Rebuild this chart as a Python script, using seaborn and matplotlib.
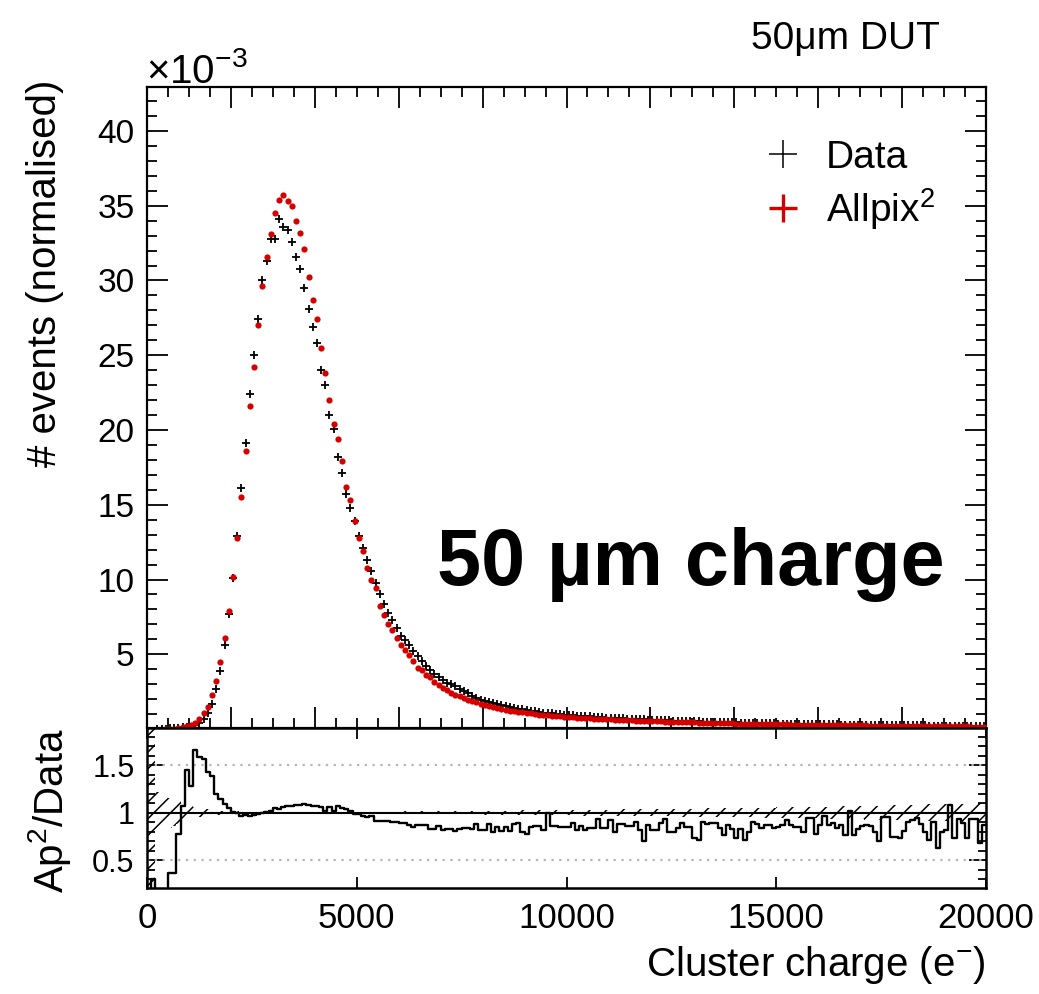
import numpy as np
import pandas as pd
import seaborn as sns
import matplotlib
matplotlib.use("Agg")
import matplotlib.pyplot as plt
from matplotlib.ticker import MultipleLocator, FuncFormatter, NullLocator
from matplotlib.lines import Line2D

# ---------------- data (values in units of 1e-3 for the upper panel) ----------------
bin_edges_range = (0, 20000)
n_bins = 200

data_vals = [
    0, 0, 0.01, 0.02, 0.03, 0.05, 0.07, 0.10, 0.14, 0.15,
    0.17, 0.27, 0.42, 0.69, 1.09, 1.65, 2.67, 3.9, 5.6, 7.7,
    10.1, 12.9, 16.1, 19.1, 22.4, 25.0, 27.4, 30.0, 31.3, 32.8,
    32.8, 34.1, 33.6, 33.4, 32.6, 31.6, 30.8, 29.5, 28.1, 26.9,
    25.8, 24.0, 23.0, 21.0, 20.1, 18.2, 17.1, 15.7, 14.8, 13.9,
    12.9, 12.1, 11.3, 10.6, 9.75, 9.0, 8.33, 7.76, 7.27, 6.73,
    6.24, 5.98, 5.62, 5.24, 4.87, 4.56, 4.24, 3.98, 3.71, 3.51,
    3.29, 3.07, 2.98, 2.87, 2.69, 2.55, 2.42, 2.24, 2.07, 1.96,
    1.86, 1.80, 1.74, 1.66, 1.59, 1.53, 1.46, 1.41, 1.37, 1.33,
    1.28, 1.23, 1.19, 1.14, 1.10, 1.07, 1.04, 1.01, 0.98, 0.95,
    0.94, 0.92, 0.90, 0.88, 0.86, 0.84, 0.82, 0.80, 0.79, 0.77,
    0.76, 0.74, 0.73, 0.71, 0.70, 0.68, 0.67, 0.66, 0.65, 0.63,
    0.62, 0.61, 0.60, 0.59, 0.58, 0.57, 0.56, 0.55, 0.54, 0.53,
    0.52, 0.51, 0.50, 0.49, 0.48, 0.47, 0.47, 0.46, 0.45, 0.44,
    0.44, 0.43, 0.42, 0.42, 0.41, 0.40, 0.40, 0.39, 0.39, 0.38,
    0.37, 0.37, 0.36, 0.36, 0.35, 0.35, 0.34, 0.34, 0.33, 0.33,
    0.32, 0.32, 0.32, 0.31, 0.31, 0.30, 0.30, 0.29, 0.29, 0.29,
    0.28, 0.28, 0.28, 0.27, 0.27, 0.27, 0.26, 0.26, 0.26, 0.25,
    0.25, 0.25, 0.24, 0.24, 0.24, 0.24, 0.23, 0.23, 0.23, 0.22,
    0.22, 0.22, 0.22, 0.21, 0.21, 0.21, 0.21, 0.20, 0.20, 0.20,
]

allpix_vals = [
    0, 0, 0, 0, 0.01, 0.02, 0.03, 0.08, 0.15, 0.22,
    0.27, 0.42, 0.65, 1.05, 1.5, 2.27, 3.2, 4.5, 6.1, 7.9,
    10.2, 12.8, 15.5, 18.6, 21.6, 24.2, 27.0, 29.6, 31.6, 33.1,
    34.5, 35.4, 35.7, 35.3, 35.0, 34.0, 33.2, 32.1, 30.2, 28.7,
    27.4, 25.5, 23.8, 22.0, 20.4, 19.4, 17.9, 16.2, 15.3, 13.9,
    12.8, 11.9, 10.8, 10.0, 9.4, 8.2, 7.6, 7.0, 6.6, 6.1,
    5.65, 5.32, 4.95, 4.57, 4.1, 3.95, 3.63, 3.45, 3.17, 2.93,
    2.75, 2.6, 2.43, 2.3, 2.18, 2.06, 1.96, 1.88, 1.79, 1.7,
    1.61, 1.54, 1.47, 1.4, 1.33, 1.29, 1.22, 1.2, 1.16, 1.13,
    1.09, 1.04, 1.0, 0.96, 0.93, 0.91, 0.89, 0.87, 0.84, 0.82,
    0.80, 0.79, 0.77, 0.75, 0.73, 0.72, 0.70, 0.69, 0.67, 0.66,
    0.65, 0.63, 0.62, 0.61, 0.60, 0.58, 0.57, 0.56, 0.55, 0.54,
    0.53, 0.52, 0.51, 0.50, 0.49, 0.48, 0.47, 0.46, 0.45, 0.45,
    0.44, 0.43, 0.42, 0.42, 0.41, 0.40, 0.40, 0.39, 0.38, 0.38,
    0.37, 0.37, 0.36, 0.35, 0.35, 0.34, 0.34, 0.33, 0.33, 0.32,
    0.32, 0.31, 0.31, 0.30, 0.30, 0.30, 0.29, 0.29, 0.28, 0.28,
    0.28, 0.27, 0.27, 0.26, 0.26, 0.26, 0.25, 0.25, 0.25, 0.24,
    0.24, 0.24, 0.23, 0.23, 0.23, 0.22, 0.22, 0.22, 0.22, 0.21,
    0.21, 0.21, 0.21, 0.20, 0.20, 0.20, 0.20, 0.19, 0.19, 0.19,
    0.19, 0.18, 0.18, 0.18, 0.18, 0.18, 0.17, 0.17, 0.17, 0.17,
]

ratio_vals = [
    0.0, 0.30, 0.10, 0.10, 0.10, 0.36, 0.36, 0.78, 1.07, 1.45,
    1.28, 1.66, 1.59, 1.57, 1.43, 1.39, 1.20, 1.14, 1.09, 1.05,
    1.01, 1.00, 0.97, 0.975, 0.97, 0.975, 0.99, 1.00, 1.01, 1.02,
    1.05, 1.04, 1.06, 1.07, 1.07, 1.08, 1.08, 1.09, 1.08, 1.07,
    1.07, 1.06, 1.02, 1.06, 1.02, 1.07, 1.05, 1.04, 1.02, 0.99,
    0.99, 0.97, 0.955, 0.968, 0.915, 0.915, 0.908, 0.908, 0.898, 0.898,
    0.887, 0.887, 0.87, 0.85, 0.87, 0.87, 0.87, 0.827, 0.827, 0.86,
    0.817, 0.824, 0.824, 0.806, 0.827, 0.84, 0.84, 0.824, 0.877, 0.817,
    0.817, 0.877, 0.80, 0.852, 0.806, 0.852, 0.806, 0.884, 0.894, 0.80,
    0.78, 0.852, 0.86, 0.86, 0.817, 1.0, 0.86, 0.86, 0.85, 0.849,
    0.849, 0.887, 0.817, 0.859, 0.817, 0.842, 0.842, 0.933, 0.842, 0.842,
    0.923, 0.792, 0.884, 0.884, 0.863, 0.863, 0.905, 0.817, 0.704, 0.87,
    0.813, 0.813, 0.887, 0.93, 0.80, 0.80, 0.842, 0.89, 0.852, 0.852,
    0.73, 0.71, 0.905, 0.877, 0.894, 0.894, 0.834, 0.764, 0.87, 0.827,
    0.73, 0.827, 0.71, 0.80, 0.905, 0.884, 0.834, 0.87, 0.87, 0.842,
    0.852, 0.87, 0.923, 0.87, 0.852, 0.852, 0.80, 0.947, 0.947, 0.771,
    0.87, 0.965, 0.87, 0.887, 0.834, 0.87, 0.764, 1.018, 0.764, 0.827,
    0.859, 0.87, 0.859, 0.80, 0.70, 0.958, 0.958, 0.746, 0.746, 0.736,
    0.806, 0.905, 0.923, 0.94, 0.877, 0.80, 0.71, 0.905, 0.63, 0.80,
    0.817, 1.08, 0.73, 0.93, 0.887, 0.73, 0.93, 0.93, 0.676, 0.87,
]

ratio_err = [
    2.0, 2.0, 0.22, 0.20, 0.18, 0.16, 0.14, 0.12, 0.10, 0.08,
    0.07, 0.06, 0.05, 0.04, 0.035, 0.03, 0.025, 0.02, 0.018, 0.016,
    0.014, 0.013, 0.012, 0.012, 0.011, 0.011, 0.011, 0.01, 0.01, 0.01,
    0.01, 0.01, 0.01, 0.01, 0.01, 0.01, 0.01, 0.01, 0.01, 0.01,
    0.01, 0.01, 0.01, 0.01, 0.01, 0.01, 0.01, 0.01, 0.01, 0.01,
    0.01, 0.01, 0.011, 0.011, 0.011, 0.012, 0.012, 0.012, 0.013, 0.013,
    0.013, 0.014, 0.014, 0.014, 0.015, 0.015, 0.015, 0.016, 0.016, 0.016,
    0.017, 0.017, 0.017, 0.018, 0.018, 0.018, 0.019, 0.019, 0.019, 0.02,
    0.02, 0.02, 0.021, 0.021, 0.022, 0.022, 0.022, 0.023, 0.023, 0.024,
    0.024, 0.025, 0.025, 0.025, 0.026, 0.026, 0.027, 0.027, 0.027, 0.028,
    0.028, 0.029, 0.029, 0.03, 0.03, 0.031, 0.031, 0.032, 0.032, 0.033,
    0.033, 0.034, 0.034, 0.035, 0.035, 0.036, 0.036, 0.037, 0.037, 0.038,
    0.038, 0.039, 0.039, 0.04, 0.04, 0.041, 0.041, 0.042, 0.042, 0.043,
    0.043, 0.044, 0.044, 0.045, 0.045, 0.046, 0.046, 0.047, 0.047, 0.048,
    0.048, 0.049, 0.05, 0.05, 0.051, 0.052, 0.052, 0.053, 0.054, 0.054,
    0.055, 0.056, 0.056, 0.057, 0.058, 0.058, 0.059, 0.06, 0.061, 0.061,
    0.062, 0.063, 0.064, 0.065, 0.065, 0.066, 0.067, 0.068, 0.069, 0.07,
    0.071, 0.072, 0.073, 0.074, 0.075, 0.076, 0.077, 0.078, 0.079, 0.08,
    0.081, 0.082, 0.083, 0.084, 0.085, 0.086, 0.087, 0.088, 0.089, 0.09,
    0.091, 0.092, 0.093, 0.094, 0.095, 0.096, 0.097, 0.098, 0.099, 0.1,
]

x_ticks_lower = [0, 5000, 10000, 15000, 20000]
legend_labels = ["Data", "Allpix$^{2}$"]

# ---------------- style ----------------
sns.set_style("ticks")
plt.rcParams["font.family"] = ["Liberation Sans", "DejaVu Sans"]
plt.rcParams["mathtext.fontset"] = "custom"
plt.rcParams["mathtext.rm"] = "Liberation Sans"
plt.rcParams["mathtext.it"] = "Liberation Sans:italic"
plt.rcParams["mathtext.bf"] = "Liberation Sans:bold"
plt.rcParams["hatch.linewidth"] = 1.1
plt.rcParams["axes.linewidth"] = 1.6
for key in ["text.color", "axes.labelcolor", "xtick.color", "ytick.color", "axes.edgecolor"]:
    plt.rcParams[key] = "black"

RED = "#d40000"

edges = np.linspace(bin_edges_range[0], bin_edges_range[1], n_bins + 1)
centers = 0.5 * (edges[:-1] + edges[1:])

df = pd.DataFrame({
    "charge": centers,
    "data": np.array(data_vals, dtype=float),
    "allpix": np.array(allpix_vals, dtype=float),
    "ratio": np.array(ratio_vals, dtype=float),
    "err": np.array(ratio_err, dtype=float),
})

W, H = 1039, 994
fig = plt.figure(figsize=(W / 100, H / 100), dpi=100)
left, right = 147 / W, 986 / W
ax1 = fig.add_axes([left, 1 - 728 / H, right - left, (728 - 87) / H])
ax2 = fig.add_axes([left, 1 - 888 / H, right - left, (888 - 728) / H])

# ---------------- upper panel ----------------
d_pos = df[df["data"] > 0]
a_pos = df[df["allpix"] > 0]
sns.scatterplot(data=d_pos, x="charge", y="data", marker="+", color="black",
                s=26, linewidth=1.3, ax=ax1, zorder=3, legend=False)
sns.scatterplot(data=a_pos, x="charge", y="allpix", marker="o", color=RED,
                s=20, linewidth=0, ax=ax1, zorder=4, legend=False)

ax1.set_xlim(*bin_edges_range)
ax1.set_ylim(0.07, 42.94)
ax1.xaxis.set_major_locator(MultipleLocator(2000))
ax1.xaxis.set_minor_locator(MultipleLocator(500))
ax1.yaxis.set_major_locator(MultipleLocator(5))
ax1.yaxis.set_minor_locator(MultipleLocator(1))
ax1.yaxis.set_major_formatter(FuncFormatter(lambda v, p: "%d" % round(v)))
ax1.tick_params(which="major", direction="in", length=15, width=1.3, top=True,
                right=True, labelbottom=False, labelsize=24, pad=9)
ax1.tick_params(which="minor", direction="in", length=7.5, width=1.3, top=True, right=True)
ax1.set_xlabel("")
ax1.set_ylabel("# events (normalised)", fontsize=29, ha="right", va="center")
ax1.yaxis.set_label_coords((45 - 147) / 839, 1.0 + 7 / 641)
for sp in ax1.spines.values():
    sp.set_visible(True)

handles = [
    Line2D([], [], color="black", marker="+", linestyle="none", markersize=20, markeredgewidth=1.1),
    Line2D([], [], color=RED, marker="+", linestyle="none", markersize=20, markeredgewidth=2.4),
]
ax1.legend(handles, legend_labels, loc="upper left",
           bbox_to_anchor=((764 - 147) / 839, 1 - (140 - 87) / 641),
           frameon=False, fontsize=28, handlelength=1.0, handletextpad=0.6,
           labelspacing=0.25, borderpad=0, borderaxespad=0)

fig.text(945 / W, 1 - 585 / H, "50 µm charge", ha="right", va="baseline",
         fontsize=57, fontweight="bold")
fig.text(940 / W, 1 - 49 / H, "50μm DUT", ha="right", va="baseline", fontsize=28)
fig.text(146 / W, 1 - 83 / H, "×10$^{-3}$", ha="left", va="baseline", fontsize=29)

# ---------------- lower (ratio) panel ----------------
lo = np.append(1 - df["err"].values, 1 - df["err"].values[-1])
hi = np.append(1 + df["err"].values, 1 + df["err"].values[-1])
ax2.fill_between(edges, lo, hi, step="post", facecolor="none", edgecolor="black",
                 hatch="//", linewidth=0, zorder=2)
ax2.axhline(1.5, color="#b5b5b5", linestyle=(0, (1, 2.5)), linewidth=1.6, zorder=1)
ax2.axhline(0.5, color="#b5b5b5", linestyle=(0, (1, 2.5)), linewidth=1.6, zorder=1)
ax2.axhline(1.0, color="black", linewidth=1.5, zorder=3)
sns.histplot(x=df["charge"].values, weights=df["ratio"].values, bins=n_bins,
             binrange=bin_edges_range, element="step", fill=False, color="black",
             linewidth=1.7, ax=ax2)

ax2.set_xlim(*bin_edges_range)
ax2.set_ylim(0.205, 1.894)
ax2.xaxis.set_major_locator(MultipleLocator(5000))
ax2.xaxis.set_minor_locator(NullLocator())
ax2.yaxis.set_major_locator(MultipleLocator(0.5))
ax2.yaxis.set_minor_locator(MultipleLocator(0.1))
ax2.yaxis.set_major_formatter(FuncFormatter(lambda v, p: "%g" % round(v, 2)))
ax2.set_xticks(x_ticks_lower)
ax2.xaxis.set_major_formatter(FuncFormatter(lambda v, p: "%d" % round(v)))
ax2.tick_params(axis="x", which="major", direction="in", length=8, width=1.3,
                top=True, labelsize=25, pad=10)
ax2.tick_params(axis="y", which="major", direction="in", length=12, width=1.3,
                right=True, labelsize=22, pad=9)
ax2.tick_params(axis="y", which="minor", direction="in", length=6, width=1.3, right=True)
ax2.set_ylabel("Ap$^{2}$/Data", fontsize=29, ha="right", va="center")
ax2.yaxis.set_label_coords((50 - 147) / 839, 1.0)
ax2.set_xlabel("Cluster charge (e$^{-}$)", fontsize=29, ha="right", va="center")
ax2.xaxis.set_label_coords(1.0, -(965 - 888) / 160)
for sp in ax2.spines.values():
    sp.set_visible(True)
    sp.set_linewidth(1.8)

fig.savefig("out.png", dpi=100)
